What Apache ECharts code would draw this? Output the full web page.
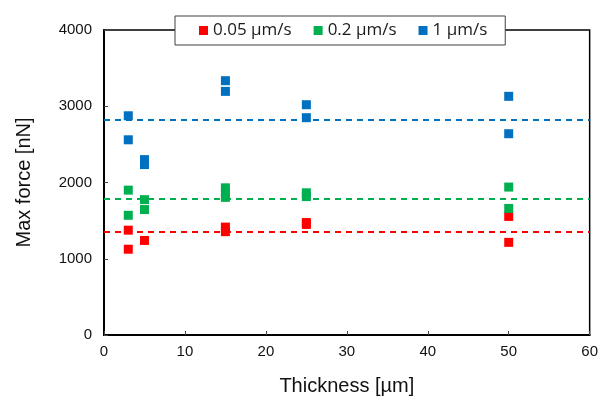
<!DOCTYPE html>
<html><head><meta charset="utf-8">
<script src="https://cdn.jsdelivr.net/npm/echarts@6/dist/echarts.min.js"></script>
<style>html,body{margin:0;padding:0;background:#fff}#c{width:601px;height:401px}</style>
</head><body><div id="c"></div>
<script>
const seriesNames = ['0.05 µm/s', '0.2 µm/s', '1 µm/s'];
const colors = ['#FF0000', '#00B050', '#0070C0'];
const redPoints = [[3,1375],[3,1125],[5,1240],[15,1415],[15,1355],[25,1475],[25,1450],[50,1555],[50,1215]];
const greenPoints = [[3,1900],[3,1570],[5,1775],[5,1645],[15,1930],[15,1860],[15,1805],[25,1865],[25,1815],[50,1940],[50,1660]];
const bluePoints = [[3,2875],[3,2560],[5,2300],[5,2235],[15,3335],[15,3195],[25,3020],[25,2850],[50,3130],[50,2640]];
const meanLines = [1350, 1787, 2823];
const xTicks = [0, 10, 20, 30, 40, 50, 60];
const yTicks = [0, 1000, 2000, 3000, 4000];

const chart = echarts.init(document.getElementById('c'), null, {renderer: 'canvas'});
const pts = [redPoints, greenPoints, bluePoints];
const series = pts.map((d, i) => ({
  name: seriesNames[i],
  type: 'scatter',
  symbol: 'rect',
  symbolSize: 9,
  itemStyle: {color: colors[i], opacity: 1},
  data: d,
  markLine: {
    silent: true,
    symbol: 'none',
    label: {show: false},
    lineStyle: {color: colors[i], type: [6, 5], width: 2, opacity: 1},
    data: [{yAxis: meanLines[i]}]
  }
}));

chart.setOption({
  animation: false,
  grid: {left: 104, right: 10, top: 30, bottom: 65, show: true, borderColor: '#000', borderWidth: 1.5},
  legend: {
    left: 175, top: 16,
    data: seriesNames.map((n, i) => ({name: n, icon: 'rect', itemStyle: {color: colors[i], opacity: 1}})),
    itemWidth: 9, itemHeight: 9, itemGap: 22,
    backgroundColor: '#fff', borderColor: '#404040', borderWidth: 1,
    padding: [6, 18, 6, 24],
    textStyle: {fontFamily: 'Open Sans', fontSize: 17, color: '#1a1a1a'}
  },
  xAxis: {
    type: 'value', min: xTicks[0], max: xTicks[xTicks.length - 1], interval: 10,
    name: 'Thickness [µm]', nameLocation: 'middle', nameGap: 41,
    nameTextStyle: {fontFamily: 'Liberation Sans', fontSize: 20, color: '#111'},
    axisLine: {lineStyle: {color: '#000', width: 2}},
    axisTick: {show: true, inside: true, length: 4, lineStyle: {color: '#444'}},
    axisLabel: {fontFamily: 'Liberation Sans', fontSize: 15, color: '#111', margin: 9},
    splitLine: {show: false}
  },
  yAxis: {
    type: 'value', min: yTicks[0], max: yTicks[yTicks.length - 1], interval: 1000,
    name: 'Max force [nN]', nameLocation: 'middle', nameGap: 70,
    nameTextStyle: {fontFamily: 'Liberation Sans', fontSize: 20, color: '#111'},
    axisLine: {show: true, lineStyle: {color: '#000', width: 2}},
    axisTick: {show: true, inside: true, length: 4, lineStyle: {color: '#444'}},
    axisLabel: {fontFamily: 'Liberation Sans', fontSize: 15, color: '#111', margin: 12, formatter: v => String(v)},
    splitLine: {show: false}
  },
  series: series
});
</script></body></html>
